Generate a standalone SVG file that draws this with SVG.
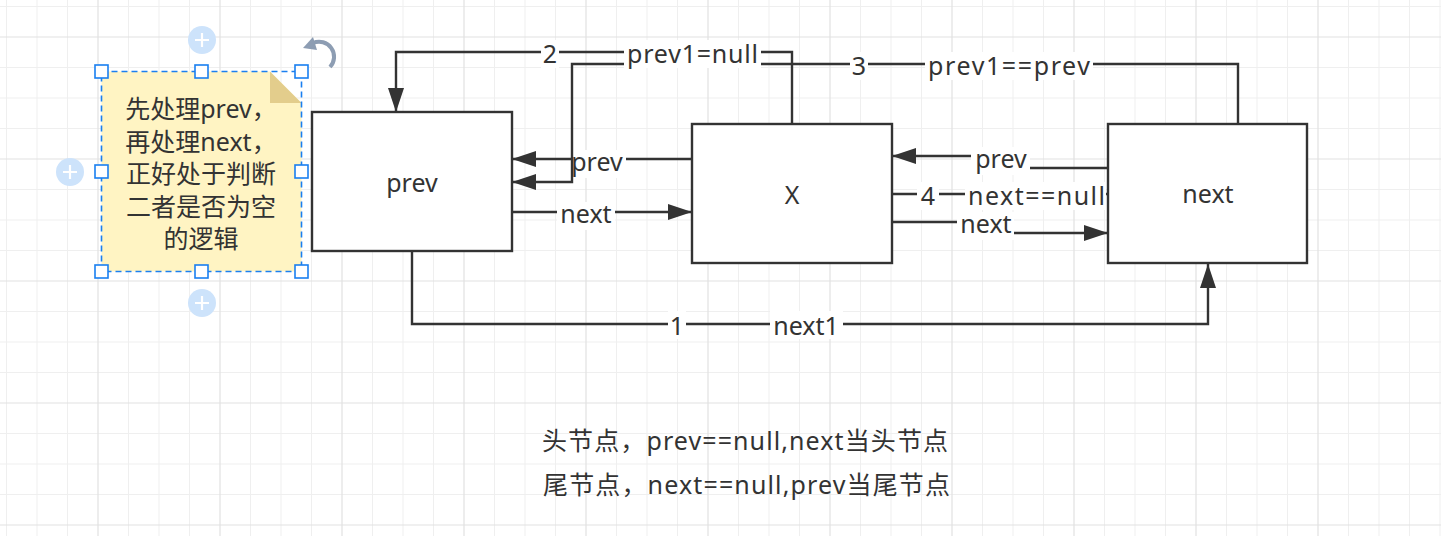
<svg xmlns="http://www.w3.org/2000/svg" width="1441" height="536" viewBox="0 0 1441 536">
<style>
text{font-family:"Noto Sans","Noto Sans CJK SC",sans-serif;font-size:25px;fill:#333333}
.c{text-anchor:middle}
.box{fill:#ffffff;stroke:#333333;stroke-width:2.4}
.ln{fill:none;stroke:#333333;stroke-width:2.4}
.lb{fill:#ffffff}
.minor{fill:none;stroke:#efefef;stroke-width:1}
.major{fill:none;stroke:#e2e2e2;stroke-width:1.2}
.hdl{fill:#ffffff;stroke:#1a7ff0;stroke-width:1.6}
.plus{fill:#cde3fb}
.pl{stroke:#ffffff;stroke-width:2.2}
</style>
<defs>
<marker id="ar" markerUnits="userSpaceOnUse" markerWidth="24" markerHeight="16" viewBox="0 0 24 16" refX="24" refY="8" orient="auto">
<path d="M0,0 L24,8 L0,16 Z" fill="#333333"/>
</marker>
</defs>
<rect width="1441" height="536" fill="#ffffff"/>
<g id="grid">
<path class="minor" d="M6.5,0V536M37,0V536M67.5,0V536M128.5,0V536M159,0V536M189.5,0V536M250.5,0V536M281,0V536M311.5,0V536M372.5,0V536M403,0V536M433.5,0V536M494.5,0V536M525,0V536M555.5,0V536M616.5,0V536M647,0V536M677.5,0V536M738.5,0V536M769,0V536M799.5,0V536M860.5,0V536M891,0V536M921.5,0V536M982.5,0V536M1013,0V536M1043.5,0V536M1104.5,0V536M1135,0V536M1165.5,0V536M1226.5,0V536M1257,0V536M1287.5,0V536M1348.5,0V536M1379,0V536M1409.5,0V536M1440,0V536M0,6.5H1441M0,67.5H1441M0,98H1441M0,128.5H1441M0,189.5H1441M0,220H1441M0,250.5H1441M0,311.5H1441M0,342H1441M0,372.5H1441M0,433.5H1441M0,464H1441M0,494.5H1441"/>
<path class="major" d="M98,0V536M220,0V536M342,0V536M464,0V536M586,0V536M708,0V536M830,0V536M952,0V536M1074,0V536M1196,0V536M1318,0V536M0,37H1441M0,159H1441M0,281H1441M0,403H1441M0,525H1441"/>
</g>
<g id="note">
<polygon points="101.5,71.5 270,71.5 301.5,103 301.5,271.5 101.5,271.5" fill="#fff4c3"/>
<polygon points="270,71.5 270,103 301.5,103" fill="#e3cd8c"/>
<text class="c" x="201" y="118">先处理prev，</text>
<text class="c" x="201" y="150.5">再处理next，</text>
<text class="c" x="201" y="183">正好处于判断</text>
<text class="c" x="201" y="215.5">二者是否为空</text>
<text class="c" x="201" y="248">的逻辑</text>
</g>
<g id="selection">
<rect x="101.5" y="71.5" width="200" height="200" fill="none" stroke="#1a7ff0" stroke-width="1.6" stroke-dasharray="6 4"/>
<rect class="hdl" x="95" y="65" width="13" height="13"/>
<rect class="hdl" x="195" y="65" width="13" height="13"/>
<rect class="hdl" x="295" y="65" width="13" height="13"/>
<rect class="hdl" x="95" y="165" width="13" height="13"/>
<rect class="hdl" x="295" y="165" width="13" height="13"/>
<rect class="hdl" x="95" y="265" width="13" height="13"/>
<rect class="hdl" x="195" y="265" width="13" height="13"/>
<rect class="hdl" x="295" y="265" width="13" height="13"/>
<circle class="plus" cx="202" cy="40" r="14"/>
<path class="pl" d="M195,40H209M202,33V47"/>
<circle class="plus" cx="70" cy="172" r="14"/>
<path class="pl" d="M63,172H77M70,165V179"/>
<circle class="plus" cx="334" cy="172" r="14"/>
<path class="pl" d="M327,172H341M334,165V179"/>
<circle class="plus" cx="202" cy="303" r="14"/>
<path class="pl" d="M195,303H209M202,296V310"/>
<path d="M313,43 A15,15 0 0 1 330,67" fill="none" stroke="#8d9db3" stroke-width="4"/>
<polygon points="303,48 313,37 317,50" fill="#8d9db3"/>
</g>
<g id="node-prev">
<rect class="box" x="312" y="112" width="200" height="139"/>
<text class="c" x="412" y="192">prev</text>
</g>
<g id="node-x">
<rect class="box" x="692" y="124" width="200" height="139"/>
<text class="c" x="792" y="204">X</text>
</g>
<g id="node-next">
<rect class="box" x="1108" y="124" width="199" height="139"/>
<text class="c" x="1208" y="203">next</text>
</g>
<g id="connectors">
<g id="e4">
<path class="ln" d="M692,159H512" marker-end="url(#ar)"/>
<rect class="lb" x="573" y="150" width="53" height="28"/>
<text class="c" x="597" y="171">prev</text>
</g>
<g id="e5">
<path class="ln" d="M512,212H692" marker-end="url(#ar)"/>
<rect class="lb" x="557" y="202" width="58" height="28"/>
<text class="c" x="586" y="223">next</text>
</g>
<g id="e3">
<path class="ln" d="M1238,124V64H572V182H512" marker-end="url(#ar)"/>
<rect class="lb" x="850" y="52" width="18" height="28"/>
<text class="c" x="859" y="75">3</text>
<rect class="lb" x="925" y="52" width="168" height="28"/>
<text x="928" y="75" textLength="162" lengthAdjust="spacing">prev1==prev</text>
</g>
<g id="e2">
<path class="ln" d="M792,124V52H396V112" marker-end="url(#ar)"/>
<rect class="lb" x="541" y="40" width="18" height="28"/>
<text class="c" x="550" y="63">2</text>
<rect class="lb" x="624" y="40" width="137" height="28"/>
<text x="627" y="63" textLength="131" lengthAdjust="spacing">prev1=null</text>
</g>
<g id="e1">
<path class="ln" d="M412,251V324H1208V264" marker-end="url(#ar)"/>
<rect class="lb" x="668" y="311" width="18" height="28"/>
<text class="c" x="677" y="335">1</text>
<rect class="lb" x="770" y="311" width="73" height="28"/>
<text class="c" x="806" y="335">next1</text>
</g>
<g id="e6">
<path class="ln" d="M1108,168H1000V156H892" marker-end="url(#ar)"/>
<rect class="lb" x="971" y="147" width="59" height="28"/>
<text class="c" x="1001" y="168">prev</text>
</g>
<g id="e7">
<path class="ln" d="M892,194H1107"/>
<rect class="lb" x="917" y="182" width="22" height="28"/>
<text class="c" x="928" y="205">4</text>
<rect class="lb" x="965" y="182" width="141" height="28"/>
<text x="968" y="205" textLength="137" lengthAdjust="spacing">next==null</text>
</g>
<g id="e8">
<path class="ln" d="M892,222H986V233H1108" marker-end="url(#ar)"/>
<rect class="lb" x="957" y="212" width="57" height="28"/>
<text class="c" x="986" y="233">next</text>
</g>
</g>
<g id="caption">
<text x="542" y="450" textLength="406" lengthAdjust="spacing">头节点，prev==null,next当头节点</text>
<text x="543" y="494" textLength="407" lengthAdjust="spacing">尾节点，next==null,prev当尾节点</text>
</g>
</svg>
